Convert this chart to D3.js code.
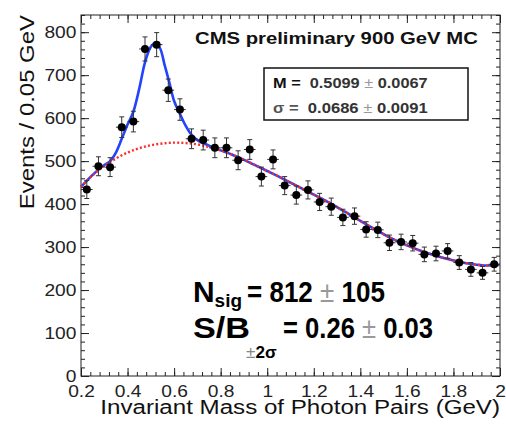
<!DOCTYPE html>
<html>
<head>
  <meta charset="utf-8">
  <script src="https://cdn.jsdelivr.net/npm/d3@7"></script>
  <style>
    body { margin: 0; background: #fff; }
    text { font-family: "Liberation Sans", Arial, sans-serif; }
  </style>
</head>
<body>
  <svg width="506" height="425" id="mainsvg"></svg>
  <script>
    // bin centres (0.05 GeV bins) and counts
    const massBins = [0.225, 0.275, 0.325, 0.375, 0.425, 0.475, 0.525, 0.575, 0.625, 0.675,
      0.725, 0.775, 0.825, 0.875, 0.925, 0.975, 1.025, 1.075, 1.125, 1.175,
      1.225, 1.275, 1.325, 1.375, 1.425, 1.475, 1.525, 1.575, 1.625, 1.675,
      1.725, 1.775, 1.825, 1.875, 1.925, 1.975];
    const events = [434, 488, 486, 579, 592, 761, 771, 665, 620, 552,
      549, 531, 531, 502, 527, 464, 504, 443, 421, 433,
      405, 394, 369, 372, 341, 340, 310, 312, 309, 283,
      285, 291, 264, 248, 240, 260];
    const eventErr = [21, 22, 22, 24, 24, 28, 28, 26, 25, 23,
      23, 23, 23, 22, 23, 22, 22, 21, 21, 21,
      20, 20, 19, 19, 18, 18, 18, 18, 18, 17,
      17, 17, 16, 16, 15, 16];

    // background fit (red dotted)
    const bkgMass = [0.2, 0.25, 0.3, 0.35, 0.4, 0.45, 0.5, 0.55, 0.6, 0.65, 0.7, 0.75, 0.8, 0.85, 0.9, 0.95,
      1.0, 1.05, 1.1, 1.15, 1.2, 1.25, 1.3, 1.35, 1.4, 1.45, 1.5, 1.55, 1.6, 1.65, 1.7, 1.75, 1.8, 1.85, 1.9, 1.95, 2.0];
    const bkgFit = [440, 467, 489, 506, 520, 530, 537, 541, 543, 542, 539, 533, 525, 515, 503, 490,
      477, 464, 450, 436, 422, 408, 393, 377, 361, 345, 330, 316, 304, 293, 284, 276, 269, 263, 259, 257, 259];

    // signal + background fit (blue)
    const totMass = [0.2, 0.25, 0.3, 0.325, 0.35, 0.375, 0.4, 0.425, 0.45, 0.475, 0.5, 0.52, 0.54, 0.56, 0.58, 0.6,
      0.625, 0.65, 0.675, 0.7, 0.75, 0.8, 0.85, 0.9, 0.95, 1.0, 1.05, 1.1, 1.15, 1.2, 1.25, 1.3, 1.35, 1.4,
      1.45, 1.5, 1.55, 1.6, 1.65, 1.7, 1.75, 1.8, 1.85, 1.9, 1.95, 2.0];
    const totFit = [440, 468, 491, 500, 520, 552, 585, 615, 668, 730, 766, 775, 762, 722, 682, 640,
      610, 582, 561, 549, 536, 525, 515, 503, 490, 477, 464, 450, 436, 422, 408, 393, 377, 361,
      345, 330, 316, 304, 293, 284, 276, 269, 263, 259, 257, 259];

    const xMajor = [0.2, 0.4, 0.6, 0.8, 1.0, 1.2, 1.4, 1.6, 1.8, 2.0];
    const xLabels = ['0.2', '0.4', '0.6', '0.8', '1', '1.2', '1.4', '1.6', '1.8', '2'];
    const yMajor = [0, 100, 200, 300, 400, 500, 600, 700, 800];

    const svg = d3.select('#mainsvg');
    const margin = { top: 15, right: 6, bottom: 49, left: 81 };
    const innerWidth = 506 - margin.left - margin.right;
    const innerHeight = 425 - margin.top - margin.bottom;
    const g = svg.append('g').attr('transform', `translate(${margin.left}, ${margin.top})`);

    const xScale = d3.scaleLinear().domain([0.2, 2.0]).range([0, innerWidth]);
    const yScale = d3.scaleLinear().domain([0, 840]).range([innerHeight, 0]);

    const xMinor = d3.range(0, 46).map(i => 0.2 + i * 0.04).filter(v => v <= 2.0001);
    const yMinor = d3.range(0, 43).map(i => i * 20);

    const tickColor = '#222';
    const stretch = 1.13;

    // minor ticks on all four sides
    const minorAxes = [
      [d3.axisBottom(xScale).tickValues(xMinor).tickSize(-4), `translate(0,${innerHeight})`],
      [d3.axisTop(xScale).tickValues(xMinor).tickSize(-4), 'translate(0,0)'],
      [d3.axisLeft(yScale).tickValues(yMinor).tickSize(-4), 'translate(0,0)'],
      [d3.axisRight(yScale).tickValues(yMinor).tickSize(-4), `translate(${innerWidth},0)`]
    ];
    minorAxes.forEach(([ax, tr]) => {
      const a = g.append('g').attr('transform', tr).call(ax.tickFormat('').tickSizeOuter(0));
      a.select('.domain').remove();
      a.selectAll('line').attr('stroke', tickColor);
    });

    // major ticks
    const xAxis = g.append('g').attr('transform', `translate(0,${innerHeight})`)
      .call(d3.axisBottom(xScale).tickValues(xMajor).tickSize(-8).tickSizeOuter(0)
        .tickPadding(9).tickFormat((d, i) => xLabels[i]));
    const xTop = g.append('g')
      .call(d3.axisTop(xScale).tickValues(xMajor).tickSize(-8).tickSizeOuter(0).tickFormat(''));
    const yAxis = g.append('g')
      .call(d3.axisLeft(yScale).tickValues(yMajor).tickSize(-8).tickSizeOuter(0).tickPadding(4));
    const yRight = g.append('g').attr('transform', `translate(${innerWidth},0)`)
      .call(d3.axisRight(yScale).tickValues(yMajor).tickSize(-8).tickSizeOuter(0).tickFormat(''));
    [xAxis, xTop, yAxis, yRight].forEach(a => {
      a.select('.domain').remove();
      a.selectAll('line').attr('stroke', tickColor);
      a.selectAll('text').attr('fill', tickColor).attr('font-size', 17)
        .attr('font-family', '"Liberation Sans", Arial, sans-serif')
        .attr('transform', `scale(${stretch},1)`);
    });

    // frame
    g.append('rect').attr('width', innerWidth).attr('height', innerHeight)
      .attr('fill', 'none').attr('stroke', tickColor).attr('stroke-width', 1);

    // fits
    const line = (xs, ys) => d3.line().curve(d3.curveCatmullRom)
      .x((d, i) => xScale(xs[i])).y(d => yScale(d))(ys);
    g.append('path').attr('d', line(totMass, totFit))
      .attr('fill', 'none').attr('stroke', '#2244ff').attr('stroke-width', 2.6);
    g.append('path').attr('d', line(bkgMass, bkgFit))
      .attr('fill', 'none').attr('stroke', '#ff2a2a').attr('stroke-width', 2.4)
      .attr('stroke-dasharray', '2,2.2');

    // data points with error bars
    const pts = g.selectAll('.pt').data(events).join('g').attr('class', 'pt')
      .attr('transform', (d, i) => `translate(${xScale(massBins[i])},${yScale(d)})`);
    pts.append('line')
      .attr('x1', -xScale(0.225) + xScale(0.2)).attr('x2', xScale(0.225) - xScale(0.2))
      .attr('stroke', '#333').attr('stroke-width', 1);
    pts.append('line')
      .attr('y1', (d, i) => yScale(d - eventErr[i]) - yScale(d))
      .attr('y2', (d, i) => yScale(d + eventErr[i]) - yScale(d))
      .attr('stroke', '#333').attr('stroke-width', 1);
    [-1, 1].forEach(s => pts.append('line')
      .attr('x1', -2.5).attr('x2', 2.5)
      .attr('y1', (d, i) => yScale(d + s * eventErr[i]) - yScale(d))
      .attr('y2', (d, i) => yScale(d + s * eventErr[i]) - yScale(d))
      .attr('stroke', '#333').attr('stroke-width', 1));
    pts.append('circle').attr('r', 4).attr('fill', '#000');

    // place a text and stretch it horizontally to a target width
    function fitText(sel, x, y, width) {
      const w = sel.node().getBBox().width;
      sel.attr('transform', `translate(${x},${y}) scale(${width / w},1)`);
    }

    // axis titles
    const xt = svg.append('text').attr('text-anchor', 'end').attr('font-size', 20).attr('fill', '#111')
      .text('Invariant Mass of Photon Pairs (GeV)');
    fitText(xt, 500, 414, 400);
    const yt = svg.append('text').attr('text-anchor', 'end').attr('font-size', 20).attr('fill', '#111')
      .text('Events / 0.05 GeV');
    const ytw = yt.node().getBBox().width;
    yt.attr('transform', `translate(34,15) rotate(-90) scale(${195 / ytw},1)`);

    // header
    const title = svg.append('text').attr('font-size', 17).attr('font-weight', 'bold').attr('fill', '#111')
      .text('CMS preliminary 900 GeV MC');
    fitText(title, 195, 44, 283);

    // fit parameter box
    svg.append('rect').attr('x', 264).attr('y', 68).attr('width', 204).attr('height', 52)
      .attr('fill', '#fff').attr('stroke', '#111').attr('stroke-width', 1.5);
    const params = [['M', '0.5099', '0.0067', 88], ['σ', '0.0686', '0.0091', 113]];
    params.forEach(([name, val, err, y]) => {
      const t = svg.append('text').attr('font-size', 14).attr('font-weight', 'bold').attr('fill', '#222');
      t.append('tspan').text(name + ' = ').attr('fill', name === 'σ' ? '#555' : '#111');
      t.append('tspan').text('\u00a0' + val + ' ').attr('fill', '#333');
      t.append('tspan').text('±').attr('fill', '#999').attr('font-weight', 'normal');
      t.append('tspan').text(' ' + err).attr('fill', '#333');
      fitText(t, 273, y, 155);
    });

    // signal numbers: label part and value part placed separately
    const bigText = () => svg.append('text').attr('font-size', 30).attr('font-weight', 'bold').attr('fill', '#000');
    const valuePart = (t, a, b) => {
      t.append('tspan').text('= ' + a + ' ');
      t.append('tspan').text('±').attr('fill', '#999').attr('font-weight', 'normal');
      t.append('tspan').text(' ' + b);
    };

    const n1a = bigText();
    n1a.append('tspan').text('N');
    n1a.append('tspan').text('sig').attr('font-size', 19).attr('dy', 5);
    fitText(n1a, 193, 302, 49);
    const n1b = bigText();
    valuePart(n1b, '812', '105');
    fitText(n1b, 247, 302, 138);

    const n2a = bigText().text('S/B');
    fitText(n2a, 193, 338, 57);
    const n2s = svg.append('text').attr('font-size', 17).attr('font-weight', 'bold').attr('fill', '#000');
    n2s.append('tspan').text('±').attr('fill', '#888').attr('font-weight', 'normal');
    n2s.append('tspan').text('2σ');
    fitText(n2s, 246, 358, 31);
    const n2b = bigText();
    valuePart(n2b, '0.26', '0.03');
    fitText(n2b, 283, 338, 150);
  </script>
</body>
</html>
